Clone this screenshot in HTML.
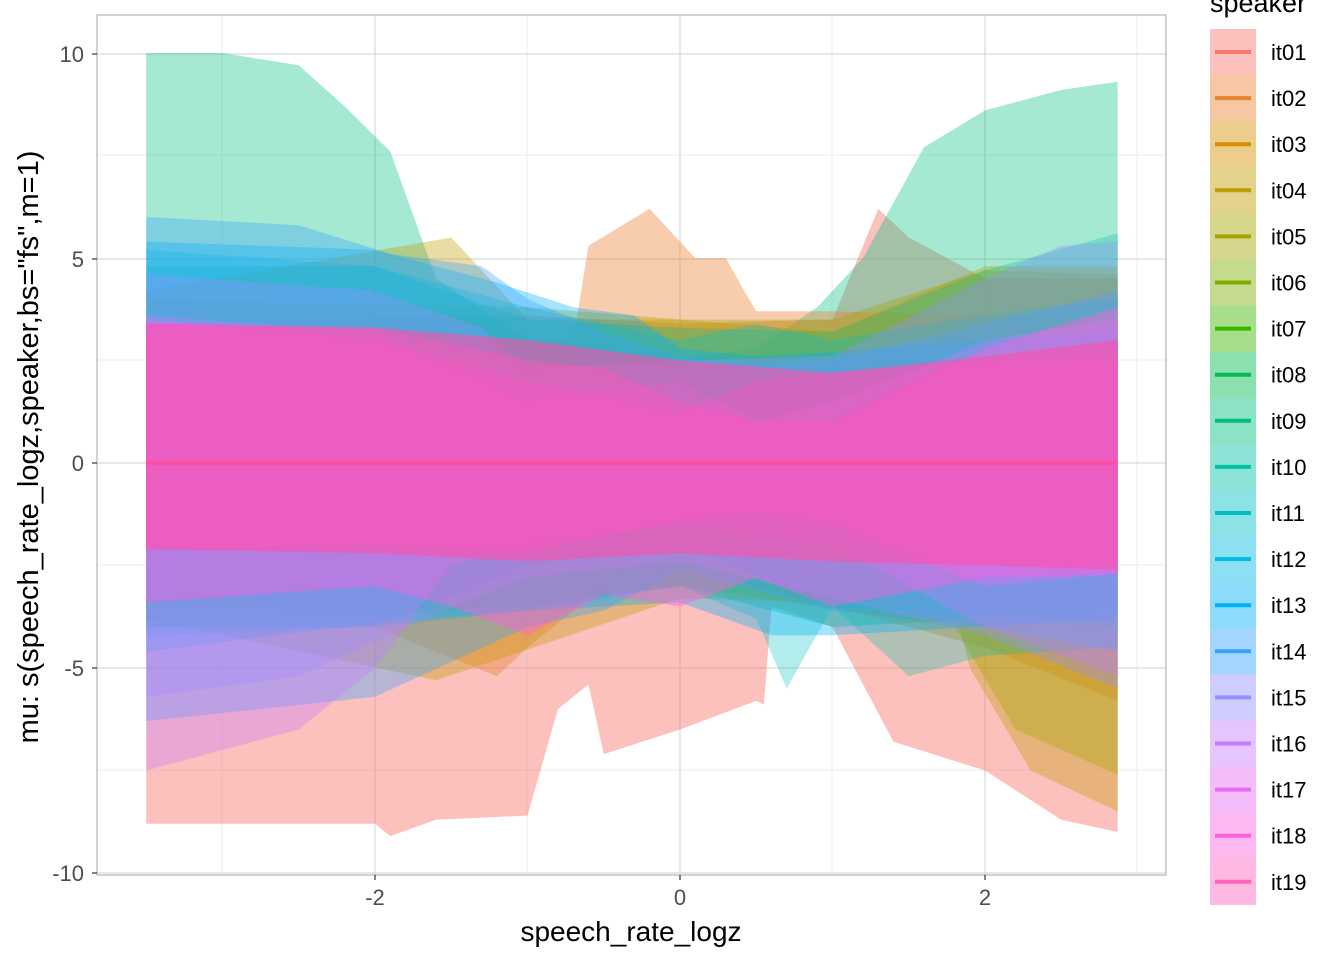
<!DOCTYPE html>
<html><head><meta charset="utf-8"><style>
body{margin:0;background:#fff;}
svg{display:block;font-family:"Liberation Sans",Arial,sans-serif;}
</style></head><body>
<svg width="1344" height="960" viewBox="0 0 1344 960">
<rect width="1344" height="960" fill="#fff"/>
<g stroke="#ebebeb" stroke-width="1">
<line x1="222" y1="15" x2="222" y2="875"/><line x1="527" y1="15" x2="527" y2="875"/><line x1="832" y1="15" x2="832" y2="875"/><line x1="1137" y1="15" x2="1137" y2="875"/>
<line x1="97" y1="155" x2="1166" y2="155"/><line x1="97" y1="360" x2="1166" y2="360"/><line x1="97" y1="565" x2="1166" y2="565"/><line x1="97" y1="770" x2="1166" y2="770"/>
</g>
<g stroke="#d9d9d9" stroke-width="1.2">
<line x1="375" y1="15" x2="375" y2="875"/><line x1="680" y1="15" x2="680" y2="875"/><line x1="985" y1="15" x2="985" y2="875"/>
<line x1="97" y1="54" x2="1166" y2="54"/><line x1="97" y1="259" x2="1166" y2="259"/><line x1="97" y1="463" x2="1166" y2="463"/><line x1="97" y1="668" x2="1166" y2="668"/><line x1="97" y1="873" x2="1166" y2="873"/>
</g>
<g transform="translate(680,463) scale(152.5,-41)" stroke="none">
<polygon fill="#F8766D" fill-opacity="0.45" points="-3.5,3.5 -1,3.6 0,3.4 1,3.5 1.3,6.2 1.5,5.5 2,4.5 2.87,4.5 2.87,-9 2.5,-8.7 2,-7.5 1.4,-6.8 1,-4 0.6,-3.5 0.55,-5.9 0.5,-5.8 0,-6.5 -0.5,-7.1 -0.6,-5.4 -0.8,-6 -1,-8.6 -1.6,-8.7 -1.9,-9.1 -2,-8.8 -3.5,-8.8"/>
<polygon fill="#00BF7D" fill-opacity="0.35" points="-3.5,10 -3,10 -2.5,9.7 -2.2,8.7 -1.9,7.6 -1.6,4.5 -1,3 0,2.5 0.5,2.8 0.9,3.8 1.2,5 1.6,7.7 2,8.6 2.5,9.1 2.87,9.3 2.87,-3.5 2,-3.8 1,-4 0,-3 -1,-3.5 -2,-3.6 -3.5,-3.5"/>
<polygon fill="#EA8331" fill-opacity="0.4" points="-3.5,3 -0.7,3 -0.6,5.3 -0.2,6.2 0.1,5 0.3,5 0.42,4.2 0.5,3.7 1,3.7 2.87,3.5 2.87,-5.8 2,-4.5 1,-3.5 0,-2.5 -0.5,-3 -1,-4.5 -1.2,-5.2 -2,-4 -3.5,-4"/>
<polygon fill="#C09B00" fill-opacity="0.35" points="-3.5,4.2 -1.5,5.5 -1,3.5 0,3.5 1,3.2 2,4.8 2.87,4.8 2.87,-8.5 2.3,-7.5 1.9,-5 1.8,-3.5 0,-3.3 -1.6,-5.3 -3.5,-3.8"/>
<polygon fill="#A3A500" fill-opacity="0.35" points="-3.5,4 -1,3.8 0,3.5 1,3.5 2,4.7 2.87,4.6 2.87,-7.6 2.2,-6.5 1.8,-4 0,-3 -2,-3.8 -3.5,-3.8"/>
<polygon fill="#00C1A3" fill-opacity="0.3" points="-3.5,4.8 -2,4.8 -1,3.5 0,3.3 1,3.2 2,4.7 2.87,5.6 2.87,-4.5 2,-4.7 1.5,-5.2 1,-3.5 0,-2 -1,-2.5 -2,-4 -3.5,-4"/>
<polygon fill="#00BFC4" fill-opacity="0.3" points="-3.5,5.2 -2,4.8 -1,3.8 0,3 0.5,3.4 1,3 2,3.6 2.87,4 2.87,-4 1,-3.5 0.7,-5.5 0.5,-3.8 0,-3 -1,-3.6 -2,-4 -3.5,-4.2"/>
<polygon fill="#00B0F6" fill-opacity="0.35" points="-3.5,5.4 -2,5.2 -1.2,4.4 -0.7,3.8 -0.3,3.6 0,2.8 0.5,2.6 1,2.7 2,3 2.87,3.2 2.87,-3.8 1,-4.2 0.6,-4.2 0,-3.4 -1,-3.6 -2,-3.9 -3.5,-4.6"/>
<polygon fill="#35A2FF" fill-opacity="0.35" points="-3.5,6 -2.5,5.8 -1.9,5.1 -1.3,4.8 -1,4 -0.5,3.2 0,2.6 0.5,2.4 1,2.5 2,3.4 2.87,4.2 2.87,-4.6 2,-4 1,-3.6 0,-2.6 -0.5,-3.6 -1,-4 -2,-5.7 -3.5,-6.3"/>
<polygon fill="#9590FF" fill-opacity="0.35" points="-3.5,4.6 -2,4.2 -1.3,3.3 -1,2.3 0,2.5 1,2.6 2,4.5 2.5,5.3 2.87,5.4 2.87,-5.5 2,-4.2 1,-3.3 0,-2.4 -1,-2.8 -1.8,-4 -2.5,-5.2 -3.5,-5.7"/>
<polygon fill="#C77CFF" fill-opacity="0.35" points="-3.5,3.6 -2,3.2 -1,1.5 0,2 0.5,1 1,1.5 1.5,2.2 2,3 2.87,3.5 2.87,-5.2 2,-4 1,-2 0,-1.5 -1,-2 -1.5,-2.5 -2,-5 -2.5,-6.5 -3.5,-7.5"/>
<polygon fill="#E76BF3" fill-opacity="0.4" points="-3.5,3.5 -2,3 -1,2 0,1.2 0.5,2 1,2.2 2,2.5 2.87,2.6 2.87,-2.7 2,-3 1,-1.5 0.5,-1.2 0,-1.4 -1,-2.2 -2,-2 -3.5,-2.1"/>
<polygon fill="#FA62DB" fill-opacity="0.45" points="-3.5,3.4 -2,3.3 -1,2.5 -0.5,2.3 0,1.5 0.5,1 1,1 2,2.8 2.87,3.8 2.87,-2.7 2,-2.8 1,-3.5 0.5,-2.8 0,-3.5 -0.5,-3.2 -1,-4.2 -1.5,-3.5 -2,-3 -3.5,-3.4"/>
<polygon fill="#FF4FA8" fill-opacity="0.6" points="-3.5,3.4 -2,3.3 -1,3 0,2.5 1,2.2 2,2.6 2.87,3 2.87,-2.6 2,-2.5 1,-2.4 0,-2.2 -1,-2.4 -2,-2.2 -3.5,-2.1"/>
</g>
<line x1="146" y1="463" x2="1117" y2="463" stroke="#FF4FA3" stroke-width="4"/>
<rect x="97" y="15" width="1069" height="860" fill="none" stroke="#b3b3b3" stroke-width="1.2"/>
<g stroke="#333" stroke-width="1.2">
<line x1="92" y1="54" x2="97" y2="54"/><line x1="92" y1="259" x2="97" y2="259"/><line x1="92" y1="463" x2="97" y2="463"/><line x1="92" y1="668" x2="97" y2="668"/><line x1="92" y1="873" x2="97" y2="873"/>
<line x1="375" y1="875" x2="375" y2="880"/><line x1="680" y1="875" x2="680" y2="880"/><line x1="985" y1="875" x2="985" y2="880"/>
</g>
<g font-size="22" fill="#4d4d4d" text-anchor="end">
<text x="84" y="62">10</text><text x="84" y="267">5</text><text x="84" y="471">0</text><text x="84" y="676">-5</text><text x="84" y="881">-10</text>
</g>
<g font-size="22" fill="#4d4d4d" text-anchor="middle">
<text x="375" y="905">-2</text><text x="680" y="905">0</text><text x="985" y="905">2</text>
</g>
<text x="631" y="941" font-size="28" text-anchor="middle" fill="#000">speech_rate_logz</text>
<text transform="translate(38,447) rotate(-90)" font-size="29" text-anchor="middle" fill="#000">mu: s(speech_rate_logz,speaker,bs="fs",m=1)</text>
<text x="1210" y="12" font-size="27" fill="#000">speaker</text>
<g id="leg" font-size="22" fill="#000"></g>
</svg>
<script>
var cols=["#F8766D","#EA8331","#D89000","#C09B00","#A3A500","#7CAE00","#39B600","#00BB4E","#00BF7D","#00C1A3","#00BFC4","#00BAE0","#00B0F6","#35A2FF","#9590FF","#C77CFF","#E76BF3","#FA62DB","#FF62BC"];
var g=document.getElementById("leg"),s="";
for(var i=0;i<19;i++){var y=29+i*46.1;var n=(i+1<10?"0":"")+(i+1);
s+='<rect x="1210" y="'+y+'" width="46" height="46.1" fill="'+cols[i]+'" fill-opacity="0.45"/>';
s+='<line x1="1215" x2="1251" y1="'+(y+23)+'" y2="'+(y+23)+'" stroke="'+cols[i]+'" stroke-width="4"/>';
s+='<text x="1271" y="'+(y+31)+'">it'+n+'</text>';}
g.innerHTML=s;
</script>
</body></html>
